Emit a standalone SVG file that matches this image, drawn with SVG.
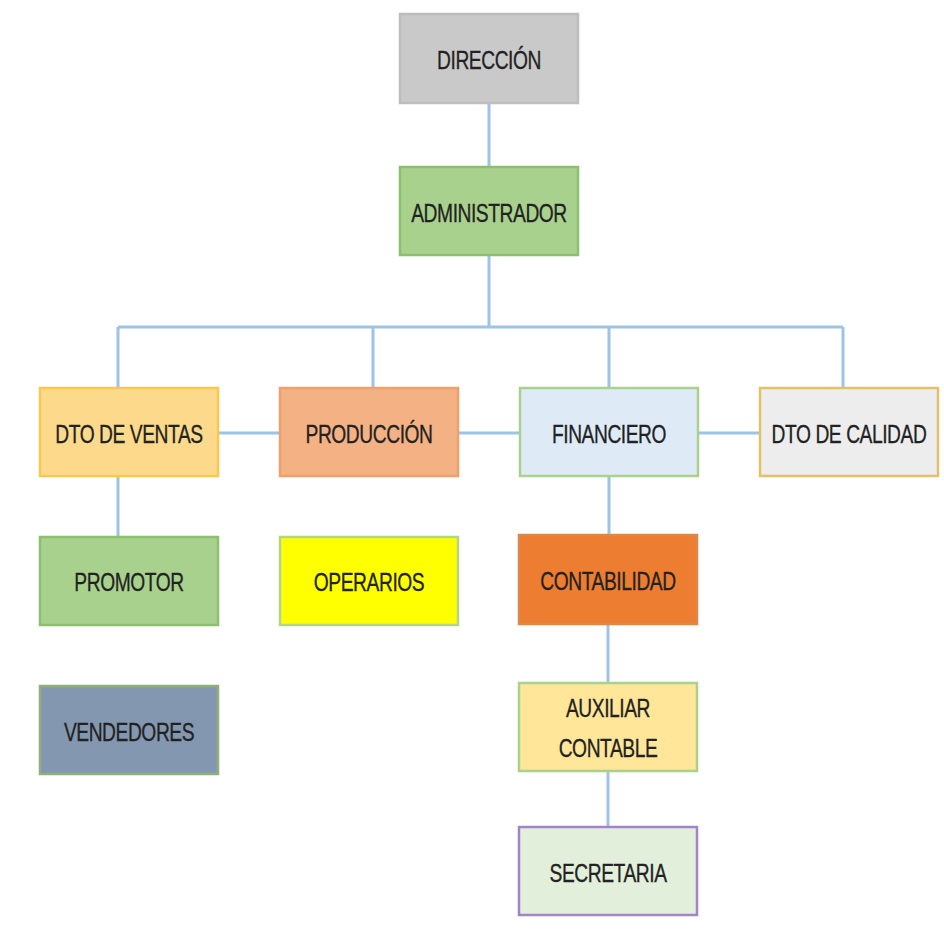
<svg xmlns="http://www.w3.org/2000/svg" width="944" height="934" viewBox="0 0 944 934">
<style>
.box{stroke-width:2.5}
.t{font-family:"Liberation Sans",Arial,sans-serif;font-size:26px;fill:#222222;stroke:#222222;stroke-width:0.3;text-anchor:middle;dominant-baseline:central;letter-spacing:-0.6px}
.c{stroke:#9dc3e6;stroke-width:3;fill:none}
</style>
<rect width="944" height="934" fill="#ffffff"/>
<g id="connectors">
<path class="c" d="M489 103V167M489 255V327M118 327H843M118 327V388M373 327V388M609 327V388M843 327V388"/>
<path class="c" d="M218 433H280M458 433H520M698 433H760"/>
<path class="c" d="M118 476V537M609 476V535M608 624V683M608 771V827"/>
</g>
<g id="direccion"><rect class="box" x="400" y="14" width="178" height="89" fill="#c9c9c9" stroke="#bdbdbd"/><text class="t" transform="translate(489 60) scale(0.74 1)">DIRECCIÓN</text></g>
<g id="administrador"><rect class="box" x="400" y="167" width="178" height="88" fill="#a9d18e" stroke="#8cc06e"/><text class="t" transform="translate(489 213) scale(0.74 1)">ADMINISTRADOR</text></g>
<g id="ventas"><rect class="box" x="40" y="388" width="178" height="88" fill="#fdd98b" stroke="#f8c850"/><text class="t" transform="translate(129 434) scale(0.74 1)">DTO DE VENTAS</text></g>
<g id="produccion"><rect class="box" x="280" y="388" width="178" height="88" fill="#f4b183" stroke="#efa06c"/><text class="t" transform="translate(369 434) scale(0.74 1)">PRODUCCIÓN</text></g>
<g id="financiero"><rect class="box" x="520" y="388" width="178" height="88" fill="#deebf7" stroke="#a9d18e"/><text class="t" transform="translate(609 434) scale(0.74 1)">FINANCIERO</text></g>
<g id="calidad"><rect class="box" x="760" y="388" width="178" height="88" fill="#ededed" stroke="#e2c169"/><text class="t" transform="translate(849 434) scale(0.74 1)">DTO DE CALIDAD</text></g>
<g id="promotor"><rect class="box" x="40" y="537" width="178" height="88" fill="#a9d18e" stroke="#8cc06e"/><text class="t" transform="translate(129 582) scale(0.74 1)">PROMOTOR</text></g>
<g id="operarios"><rect class="box" x="280" y="537" width="178" height="88" fill="#ffff00" stroke="#b5d38a"/><text class="t" transform="translate(369 582) scale(0.74 1)">OPERARIOS</text></g>
<g id="contabilidad"><rect class="box" x="519" y="535" width="178" height="89" fill="#ed7d31" stroke="#d9894a"/><text class="t" transform="translate(608 581) scale(0.74 1)">CONTABILIDAD</text></g>
<g id="vendedores"><rect class="box" x="40" y="686" width="178" height="88" fill="#8497b0" stroke="#8fb07a"/><text class="t" transform="translate(129 732) scale(0.74 1)">VENDEDORES</text></g>
<g id="auxiliar"><rect class="box" x="519" y="683" width="178" height="88" fill="#ffe699" stroke="#a9d18e"/><text class="t" transform="translate(608 708) scale(0.74 1)">AUXILIAR</text><text class="t" transform="translate(608 748) scale(0.74 1)">CONTABLE</text></g>
<g id="secretaria"><rect class="box" x="519" y="827" width="178" height="88" fill="#e2efda" stroke="#a484c8"/><text class="t" transform="translate(608 873) scale(0.74 1)">SECRETARIA</text></g>
</svg>
